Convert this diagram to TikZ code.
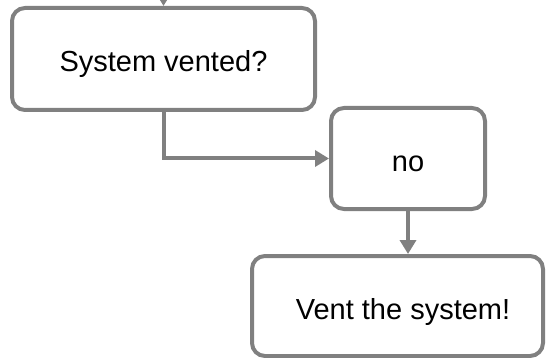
\documentclass[tikz,border=0pt]{standalone}
\usepackage{fontspec}
\setmainfont{Liberation Sans}
\usetikzlibrary{arrows.meta}
\definecolor{linegray}{RGB}{128,128,128}
\tikzset{
    box/.style={
        draw=linegray,
        line width=4pt,
        rounded corners=13pt,
        inner sep=0pt,
        text height=26pt,
        text depth=0pt,
        align=center,
        font=\fontsize{29}{34}\selectfont
    },
    flow/.style={
        draw=linegray,
        line width=4pt,
        -{Triangle[length=14pt,width=16pt]}
    }
}
\begin{document}
\begin{tikzpicture}[x=1pt,y=-1pt]
            \useasboundingbox (0,0) rectangle (548,358);

            % Boxes
            \node (vented) [
                box,
                minimum width=303pt,
                minimum height=102pt,
            ] at (163.5,59) {System vented?};
            \node (no) [
                box,
                minimum width=154pt,
                minimum height=101pt,
            ] at (408,158.5) {no};
            \node (vent) [
                box,
                minimum width=291pt,
                minimum height=100pt,
            ] at (397.5,306) {\hspace*{11pt}Vent the system!};
            \coordinate (entry) at (163.5,-20);

            % Edges
            \path
                (entry) edge [flow] (vented.north)
                (vented.south) edge [flow, to path={|- (\tikztotarget)}] (no.west)
                (no.south) edge [flow] (no.south |- vent.north)
            ;
        \end{tikzpicture}
\end{document}
